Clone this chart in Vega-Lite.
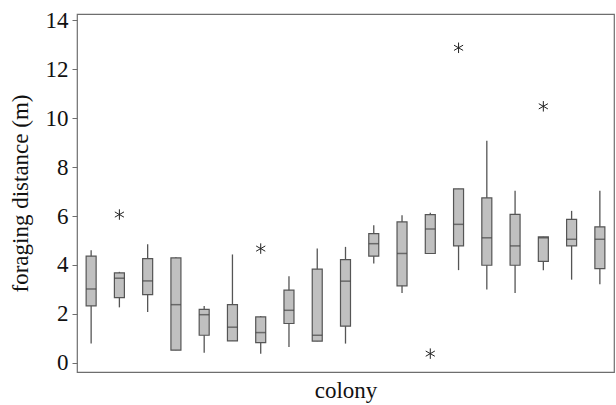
{
  "$schema": "https://vega.github.io/schema/vega-lite/v6.json",
  "width": 537,
  "height": 358,
  "autosize": "none",
  "padding": {"left": 77, "top": 14, "right": 2, "bottom": 33},
  "background": "white",
  "config": {
    "view": {"stroke": "#6e6e6e", "strokeWidth": 1.2},
    "font": "Liberation Serif",
    "axis": {"labelFont": "Liberation Serif", "titleFont": "Liberation Serif", "titleFontWeight": "normal", "labelColor": "#111", "titleColor": "#111", "grid": false}
  },
  "datasets": {
    "boxes": [
      {"colony": 1, "lo": 0.79, "q1": 2.33, "med": 3.02, "q3": 4.36, "hi": 4.6},
      {"colony": 2, "lo": 2.27, "q1": 2.67, "med": 3.46, "q3": 3.68, "hi": 3.72},
      {"colony": 3, "lo": 2.08, "q1": 2.79, "med": 3.35, "q3": 4.26, "hi": 4.85},
      {"colony": 4, "lo": 0.52, "q1": 0.52, "med": 2.38, "q3": 4.29, "hi": 4.32},
      {"colony": 5, "lo": 0.42, "q1": 1.13, "med": 1.97, "q3": 2.19, "hi": 2.33},
      {"colony": 6, "lo": 0.9, "q1": 0.9, "med": 1.46, "q3": 2.38, "hi": 4.43},
      {"colony": 7, "lo": 0.38, "q1": 0.83, "med": 1.24, "q3": 1.88, "hi": 1.92},
      {"colony": 8, "lo": 0.65, "q1": 1.61, "med": 2.15, "q3": 2.97, "hi": 3.54},
      {"colony": 9, "lo": 0.89, "q1": 0.89, "med": 1.13, "q3": 3.83, "hi": 4.67},
      {"colony": 10, "lo": 0.79, "q1": 1.5, "med": 3.34, "q3": 4.22, "hi": 4.74},
      {"colony": 11, "lo": 4.06, "q1": 4.36, "med": 4.87, "q3": 5.28, "hi": 5.62},
      {"colony": 12, "lo": 2.86, "q1": 3.15, "med": 4.47, "q3": 5.76, "hi": 6.03},
      {"colony": 13, "lo": 4.47, "q1": 4.47, "med": 5.47, "q3": 6.06, "hi": 6.13},
      {"colony": 14, "lo": 3.79, "q1": 4.78, "med": 5.66, "q3": 7.11, "hi": 7.11},
      {"colony": 15, "lo": 3.0, "q1": 3.99, "med": 5.11, "q3": 6.74, "hi": 9.07},
      {"colony": 16, "lo": 2.86, "q1": 3.99, "med": 4.78, "q3": 6.07, "hi": 7.03},
      {"colony": 17, "lo": 3.79, "q1": 4.15, "med": 5.11, "q3": 5.15, "hi": 5.15},
      {"colony": 18, "lo": 3.4, "q1": 4.78, "med": 5.05, "q3": 5.86, "hi": 6.21},
      {"colony": 19, "lo": 3.21, "q1": 3.85, "med": 5.05, "q3": 5.56, "hi": 7.03}
    ],
    "outliers": [
      {"colony": 2, "value": 6.06},
      {"colony": 7, "value": 4.67},
      {"colony": 13, "value": 0.38},
      {"colony": 14, "value": 12.87},
      {"colony": 17, "value": 10.48}
    ]
  },
  "layer": [
    {
      "data": {"name": "boxes"},
      "mark": {"type": "rule", "color": "#555", "strokeWidth": 1.3},
      "encoding": {
        "x": {"field": "colony", "type": "ordinal"},
        "y": {"field": "lo", "type": "quantitative"},
        "y2": {"field": "hi"}
      }
    },
    {
      "data": {"name": "boxes"},
      "mark": {"type": "bar", "size": 10, "fill": "#c0c0c0", "stroke": "#555", "strokeWidth": 1.2},
      "encoding": {
        "x": {"field": "colony", "type": "ordinal"},
        "y": {"field": "q1", "type": "quantitative"},
        "y2": {"field": "q3"}
      }
    },
    {
      "data": {"name": "boxes"},
      "mark": {"type": "tick", "size": 10, "color": "#444", "thickness": 1.5},
      "encoding": {
        "x": {"field": "colony", "type": "ordinal"},
        "y": {"field": "med", "type": "quantitative"}
      }
    },
    {
      "data": {"name": "outliers"},
      "mark": {"type": "point", "shape": "M0,-1L0,1M-0.87,-0.5L0.87,0.5M-0.87,0.5L0.87,-0.5", "size": 110, "stroke": "#222", "strokeWidth": 1, "filled": false, "opacity": 1},
      "encoding": {
        "x": {"field": "colony", "type": "ordinal"},
        "y": {"field": "value", "type": "quantitative"}
      }
    }
  ],
  "encoding": {
    "x": {
      "field": "colony", "type": "ordinal",
      "scale": {"paddingInner": 0, "paddingOuter": 0},
      "axis": {"labels": false, "ticks": false, "domain": false, "title": "colony", "titleFontSize": 23, "titlePadding": 7}
    },
    "y": {
      "field": "lo", "type": "quantitative",
      "scale": {"domain": [-0.37, 14.25], "nice": false, "zero": false},
      "axis": {"values": [0, 2, 4, 6, 8, 10, 12, 14], "title": "foraging distance (m)", "titleFontSize": 23, "labelFontSize": 23, "tickSize": 5, "tickColor": "#6e6e6e", "domain": false, "labelPadding": 4, "titlePadding": 13}
    }
  }
}
